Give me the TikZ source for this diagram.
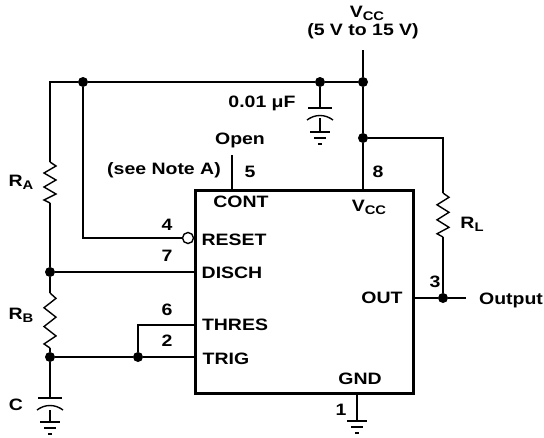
\documentclass[tikz,border=0pt]{standalone}
\usepackage{fontspec}
\setmainfont{Liberation Sans}[FakeStretch=1.18]
\newcommand\lowsub[1]{\raisebox{-0.35ex}{\fontsize{12.5}{12.5}\selectfont #1}}
\begin{document}
\begin{tikzpicture}[x=1pt,y=-1pt,
  wire/.style={line width=1.4pt},
  chip/.style={line width=2.8pt},
  lbl/.style={font=\fontsize{16.5}{17}\selectfont\bfseries, inner sep=0pt},
  jdot/.style={circle,fill,inner sep=0pt,minimum size=10pt},
  resv/.pic={\draw[wire,line join=miter] (0,0) -- (6,4) -- (-6,11) -- (6,18) -- (-6,25) -- (6,32) -- (-6,38) -- (0,41);},
  capv/.pic={\draw[wire] (-12,0) -- (12,0);
             \draw[wire] (-13,12) .. controls (-5,6) and (5,6) .. (13,12);},
  gnd/.pic={\draw[wire] (-10,0) -- (10,0) (-6,6) -- (6,6) (-2,12) -- (2,12);}]
\useasboundingbox (0,0) rectangle (544,437);

% 555 timer body
\node[draw,chip,minimum width=218pt,minimum height=203pt,anchor=north west,inner sep=0pt] (ic) at (194,189) {};

% junctions
\node[jdot] (jtop) at (83,82) {};
\node[jdot] (jcap) at (320,82) {};
\node[jdot] (jvcc) at (363,82) {};
\node[jdot] (jrl) at (363,138) {};
\node[jdot] (jdis) at (50,272) {};
\node[jdot] (jtrig) at (50,357) {};
\node[jdot] (jthr) at (138,357) {};
\node[jdot] (jout) at (443,298) {};
\node[circle,draw,wire,fill=white,inner sep=0pt,minimum size=11pt] (bub) at (188,238) {};

% helper points
\coordinate (vtop) at (363,50);
\coordinate (tl) at (50,82);
\coordinate (ra1) at (50,162);
\coordinate (ra2) at (50,203);
\coordinate (rb1) at (50,293);
\coordinate (rb2) at (50,348);
\coordinate (c1) at (50,398);
\coordinate (c2) at (50,410);
\coordinate (cg) at (50,422);
\coordinate (k1) at (320,108);
\coordinate (k2) at (320,118);
\coordinate (kg) at (320,132);
\coordinate (rstc) at (83,238);
\coordinate (p8) at (363,189);
\coordinate (p5a) at (232,155);
\coordinate (p5b) at (232,189);
\coordinate (p7) at (194,272);
\coordinate (p6) at (194,325);
\coordinate (thc) at (138,325);
\coordinate (p2) at (194,357);
\coordinate (p3) at (412,298);
\coordinate (outend) at (466,298);
\coordinate (rlc) at (443,138);
\coordinate (rl1) at (443,193);
\coordinate (rl2) at (443,237);
\coordinate (p1) at (357,392);
\coordinate (p1g) at (357,421);

% wiring
\draw[wire] (vtop) -- (jvcc) -- (jrl) -- (p8);
\draw[wire] (jvcc) -- (jcap) -- (jtop) -- (tl) -- (ra1);
\draw[wire] (jcap) -- (k1) (k2) -- (kg);
\draw[wire] (ra2) -- (jdis) -- (rb1);
\draw[wire] (rb2) -- (jtrig) -- (c1) (c2) -- (cg);
\draw[wire] (jtop) -- (rstc) -- (bub);
\draw[wire] (jdis) -- (p7);
\draw[wire] (jtrig) -- (jthr) -- (p2);
\draw[wire] (jthr) -- (thc) -- (p6);
\draw[wire] (p5a) -- (p5b);
\draw[wire] (jrl) -- (rlc) -- (rl1);
\draw[wire] (rl2) -- (jout);
\draw[wire] (p3) -- (jout) -- (outend);
\draw[wire] (p1) -- (p1g);

% components
\pic at (ra1) {resv};
\pic[yscale=55/41] at (rb1) {resv};
\pic[yscale=44/41] at (rl1) {resv};
\pic at (c1) {capv};
\pic at (k1) {capv};
\pic at (kg) {gnd};
\pic at (cg) {gnd};
\pic at (p1g) {gnd};

% labels
\node[lbl] (tvcc) at (367,13) {V\lowsub{CC}};
\node[lbl] (trng) at (363,31) {(5 V to 15 V)};
\node[lbl] (tcap) at (262,103) {0.01 μF};
\node[lbl] (topen) at (240,140) {Open};
\node[lbl] (tnote) at (164,170) {(see Note A)};
\node[lbl] (n5) at (250,172) {5};
\node[lbl] (n8) at (378,172) {8};
\node[lbl] (n4) at (167,225) {4};
\node[lbl] (n7) at (167,256) {7};
\node[lbl] (n6) at (167,310) {6};
\node[lbl] (n2) at (167,341) {2};
\node[lbl] (n3) at (435,282) {3};
\node[lbl] (n1) at (341,410) {1};
\node[lbl] (tra) at (21,182) {R\lowsub{A}};
\node[lbl] (trb) at (21,315) {R\lowsub{B}};
\node[lbl] (tc) at (16,405) {C};
\node[lbl] (trl) at (472,224) {R\lowsub{L}};
\node[lbl] (tout) at (511,300) {Output};
\node[lbl] (ncont) at (241,202) {CONT};
\node[lbl] (nvcc) at (369,207) {V\lowsub{CC}};
\node[lbl] (nrst) at (234,240) {RESET};
\node[lbl] (ndis) at (232,273) {DISCH};
\node[lbl] (nthr) at (235,325) {THRES};
\node[lbl] (ntrg) at (226,359) {TRIG};
\node[lbl] (ngnd) at (360,379) {GND};
\node[lbl] (nout) at (382,298) {OUT};
\end{tikzpicture}
\end{document}
